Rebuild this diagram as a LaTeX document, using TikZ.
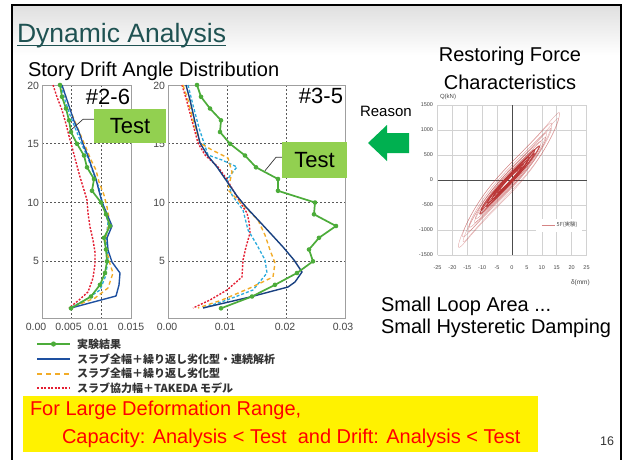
\documentclass[tikz,border=0pt]{standalone}
\usepackage{fontspec}
\setmainfont{Liberation Sans}
\newfontfamily\jpfont{Noto Sans CJK JP}
\usetikzlibrary{calc}
\newcommand\setfs[1]{\fontsize{#1}{#1}\selectfont}

\definecolor{titleteal}{RGB}{31,82,82}
\definecolor{testgreen}{RGB}{76,172,58}
\definecolor{anablue}{RGB}{30,80,160}
\definecolor{anaorange}{RGB}{242,172,40}
\definecolor{anacyan}{RGB}{40,170,220}
\definecolor{anared}{RGB}{228,30,50}
\definecolor{boxgreen}{RGB}{146,208,80}
\definecolor{arrowgreen}{RGB}{0,176,80}
\definecolor{hystred}{RGB}{185,50,50}
\definecolor{ticktext}{RGB}{70,70,70}

\begin{document}
\begin{tikzpicture}[x=1pt,y=-1pt,
  txt/.style={inner sep=0pt, outer sep=0pt},
  plotframe/.style={draw=gray!75, line width=0.9pt},
  plotgrid/.style={draw=black!65, line width=0.9pt, dash pattern=on 2pt off 2pt},
  expcurve/.style={draw=testgreen, line width=1.7pt, line join=round},
  contcurve/.style={draw=anablue, line width=1.4pt, line join=round},
  cyccurve/.style={draw=anaorange, line width=1.4pt, dash pattern=on 4pt off 3pt, line join=round},
  cyancurve/.style={draw=anacyan, line width=1.3pt, dash pattern=on 3pt off 2pt, line join=round},
  takcurve/.style={draw=anared, line width=1.4pt, dash pattern=on 2pt off 1.5pt, line join=round},
  testbox/.style={fill=boxgreen, inner sep=0pt, font=\setfs{22}},
  leader/.style={draw=black!80, line width=0.7pt},
  ticklab/.style={txt, text=ticktext, font=\setfs{10.5}},
  hgrid/.style={draw=gray!35, line width=0.5pt},
  hyst/.style={draw=hystred, line width=0.35pt},
  hlab/.style={txt, text=ticktext, font=\setfs{5.5}},
  legtext/.style={txt, anchor=west, text=black!80, font=\jpfont\bfseries\setfs{11}},
]
\useasboundingbox (0,0) rectangle (624,459);
\fill[white] (0,0) rectangle (624,459);

% slide background with light header gradient
\shade[top color=gray!25, bottom color=white] (12,5) rectangle (621,55);
\draw[black, line width=2.6pt] (12,462) -- (12,5) -- (621,5) -- (621,462);

% title
\node[txt, anchor=base west, text=titleteal, font=\setfs{26.5}] (title) at (17,42) {Dynamic Analysis};
\draw[titleteal, line width=1.4pt] (title.base west) ++(0,3.6) -- ($(title.base east)+(0,3.6)$);
\node[txt, anchor=base west, font=\setfs{20}] (subtitle) at (28,76) {Story Drift Angle Distribution};

% ---------------- drift plot #2-6 ----------------
\foreach \yy in {143.75,202.5,261.25} \draw[plotgrid] (42,\yy) -- (131,\yy);
\foreach \xx in {71.7,101.4} \draw[plotgrid] (\xx,85) -- (\xx,318);
\draw[plotframe] (42,85) rectangle (131,318);
\node[ticklab, anchor=east] (la20) at (39,86) {20};
\node[ticklab, anchor=east] (la15) at (39,143.75) {15};
\node[ticklab, anchor=east] (la10) at (39,202.5) {10};
\node[ticklab, anchor=east] (la5) at (39,261.25) {5};
\node[ticklab] (lx0) at (36,327) {0.00};
\node[ticklab] (lx1) at (68.5,327) {0.005};
\node[ticklab] (lx2) at (98,327) {0.01};
\node[ticklab] (lx3) at (131,327) {0.015};
\node[txt, anchor=base east, font=\setfs{22}] (casea) at (130,104) {\#2-6};

\draw[takcurve] (53,85) -- (57,97) -- (62,110) -- (66,124) -- (69,136) -- (72,147) -- (76,162) -- (80,177) -- (84,190) -- (87,200) -- (88,213) -- (90,227) -- (93,240) -- (95,252) -- (95,264) -- (93,278) -- (88,292) -- (79,300) -- (69,308);
\draw[cyancurve] (61,85) -- (65,100) -- (70,115) -- (76,130) -- (82,145) -- (88,158) -- (93,172) -- (99,188) -- (103,205) -- (108,222) -- (106,240) -- (108,258) -- (106,275) -- (100,290) -- (85,300) -- (70,308);
\draw[cyccurve] (63,88) -- (67,100) -- (71,112) -- (76,124) -- (81,136) -- (86,148) -- (91,160) -- (96,170) -- (99,182) -- (104,195) -- (107,207) -- (109,218) -- (108,228) -- (105,240) -- (107,252) -- (110,264) -- (113,273) -- (108,288) -- (95,298) -- (70,308);
\draw[contcurve] (62,85) -- (66,97) -- (70,109) -- (74,121) -- (79,132) -- (83,144) -- (88,156) -- (92,168) -- (96,179) -- (99,191) -- (102,202) -- (107,214) -- (112,226) -- (107,238) -- (108,250) -- (112,262) -- (120,273) -- (119,285) -- (116,296) -- (71,308);
\draw[expcurve] (60,85) -- (62,96.8) -- (66,108.5) -- (69,120.3) -- (71,132) -- (77,143.8) -- (84,155.5) -- (87,167.3) -- (94,179) -- (92,190.8) -- (101,202.5) -- (106,214.3) -- (110,226) -- (104,237.8) -- (106,249.5) -- (107,261.3) -- (105,273) -- (100,284.8) -- (91,296.5) -- (71,308.3);
\foreach \p in {(60,85),(62,96.8),(66,108.5),(69,120.3),(71,132),(77,143.8),(84,155.5),(87,167.3),(94,179),(92,190.8),(101,202.5),(106,214.3),(110,226),(104,237.8),(106,249.5),(107,261.3),(105,273),(100,284.8),(91,296.5),(71,308.3)}
  \fill[testgreen] \p circle[radius=2.3pt];

% ---------------- drift plot #3-5 ----------------
\foreach \yy in {143.75,202.5,261.25} \draw[plotgrid] (168,\yy) -- (345,\yy);
\foreach \xx in {227,286} \draw[plotgrid] (\xx,85) -- (\xx,318);
\draw[plotframe] (168,85) rectangle (345,318);
\node[ticklab, anchor=east] (lb20) at (165,86) {20};
\node[ticklab, anchor=east] (lb15) at (165,143.75) {15};
\node[ticklab, anchor=east] (lb10) at (165,202.5) {10};
\node[ticklab, anchor=east] (lb5) at (165,261.25) {5};
\node[ticklab] (mx0) at (167,327) {0.00};
\node[ticklab] (mx1) at (225,327) {0.01};
\node[ticklab] (mx2) at (285,327) {0.02};
\node[ticklab] (mx3) at (343,327) {0.03};
\node[txt, anchor=base east, font=\setfs{22}] (caseb) at (343,103) {\#3-5};

\draw[takcurve] (182,85) -- (186,98) -- (190,113) -- (194,128) -- (198,143) -- (205,155) -- (218,167) -- (226,178) -- (233,190) -- (240,202) -- (247,213) -- (249,222) -- (250,233) -- (246,247) -- (243,260) -- (242,277) -- (227,290) -- (210,300) -- (193,308);
\draw[cyancurve] (188,85) -- (193,105) -- (199,128) -- (208,155) -- (222,160) -- (237,167) -- (232,173) -- (227,180) -- (232,195) -- (243,210) -- (248,230) -- (257,245) -- (265,260) -- (267,273) -- (253,290) -- (227,300) -- (203,308);
\draw[cyccurve] (183,85) -- (188,100) -- (193,120) -- (200,143) -- (212,150) -- (228,158) -- (232,172) -- (228,190) -- (240,202) -- (258,220) -- (265,235) -- (270,250) -- (275,263) -- (273,277) -- (250,288) -- (222,300) -- (198,308);
\draw[contcurve, draw=anablue!80!black] (186,85) -- (190,100) -- (195,122) -- (200,143) -- (208,156) -- (217,167) -- (228,183) -- (237,196) -- (246,207) -- (260,222) -- (272,235) -- (283,247) -- (294,260) -- (302,272) -- (295,282) -- (288,287) -- (250,297) -- (203,308);
\draw[expcurve] (197,85) -- (201,96.8) -- (210,108.5) -- (221,120.3) -- (220,132) -- (230,143.8) -- (245,155.5) -- (256,167.3) -- (278,179) -- (278,190.8) -- (315,202.5) -- (314,214.3) -- (336,226) -- (319,237.8) -- (309,249.5) -- (313,261.3) -- (297,273) -- (275,284.8) -- (252,296.5) -- (221,308.3);
\foreach \p in {(197,85),(201,96.8),(210,108.5),(221,120.3),(220,132),(230,143.8),(245,155.5),(256,167.3),(278,179),(278,190.8),(315,202.5),(314,214.3),(336,226),(319,237.8),(309,249.5),(313,261.3),(297,273),(275,284.8),(252,296.5),(221,308.3)}
  \fill[testgreen] \p circle[radius=2.3pt];

% test labels with leader lines
\node[testbox, minimum width=72pt, minimum height=34pt] (testa) at (130,126) {Test};
\coordinate (testaknee) at (83,119.3);
\coordinate (testatip) at (71,130);
\draw[leader] (testa.west |- testaknee) -- (testaknee) -- (testatip);
\node[testbox, minimum width=65pt, minimum height=36pt] (testb) at (314.5,160) {Test};
\coordinate (testbknee) at (276,157.3);
\coordinate (testbtip) at (265,170.7);
\draw[leader] (testb.west |- testbknee) -- (testbknee) -- (testbtip);

% legend
\coordinate (lg1a) at (37,344); \coordinate (lg1b) at (70,344);
\coordinate (lg2a) at (37,359); \coordinate (lg2b) at (70,359);
\coordinate (lg3a) at (37,373.5); \coordinate (lg3b) at (70,373.5);
\coordinate (lg4a) at (37,388); \coordinate (lg4b) at (70,388);
\draw[expcurve] (lg1a) -- (lg1b);
\fill[testgreen] ($(lg1a)!0.5!(lg1b)$) circle[radius=2.6pt];
\draw[contcurve, line width=1.8pt] (lg2a) -- (lg2b);
\draw[cyccurve, line width=2pt, dash pattern=on 5pt off 4pt] (lg3a) -- (lg3b);
\draw[takcurve] (lg4a) -- (lg4b);
\node[legtext] (lgt1) at (77,344) {実験結果};
\node[legtext] (lgt2) at (77,359) {スラブ全幅＋繰り返し劣化型・連続解析};
\node[legtext] (lgt3) at (77,373.5) {スラブ全幅＋繰り返し劣化型};
\node[legtext] (lgt4) at (77,388) {スラブ協力幅＋TAKEDA モデル};

% ---------------- restoring force characteristics ----------------
\node[txt, anchor=base, font=\setfs{20}] (rfc1) at (510,61) {Restoring Force};
\node[txt, anchor=base, font=\setfs{20}] (rfc2) at (510,89) {Characteristics};
\node[txt, anchor=base west, font=\setfs{15}] (reason) at (360,116) {Reason};
\fill[arrowgreen] (368,143) -- (387,125) -- (387,133) -- (409,133) -- (409,153) -- (387,153) -- (387,161) -- cycle;

\begin{scope}[shift={(512,180)}, x=2.98pt, y=0.05pt]
  \foreach \gx in {-25,-20,...,25} \draw[hgrid] (\gx,-1500) -- (\gx,1500);
  \foreach \gy in {-1500,-1000,...,1500} \draw[hgrid] (-25,\gy) -- (25,\gy);
  \draw[gray!60!black, line width=0.6pt] (-25,0) -- (25,0);
  \draw[gray!60!black, line width=0.6pt] (0,-1500) -- (0,1500);
  \foreach \gy in {-1500,-1000,-500,0,500,1000,1500}
    \node[hlab, anchor=east] at (-26.5,\gy) {\gy};
  \foreach \gx in {-25,-20,...,25}
    \node[hlab] at (\gx,-1760) {\gx};
  % hysteresis loops
  \foreach \A/\B/\c/\op in {17/300/0/0.45,16/230/0.6/0.4,15/260/-0.6/0.45,14/190/0.2/0.45,13/210/-0.4/0.5,12/160/0.4/0.5,11/170/-0.2/0.55,10/120/0.3/0.6,9/130/-0.3/0.6,8/100/0.2/0.7,7/95/-0.2/0.75,6/80/0.2/0.8,5/70/-0.1/0.85,4/60/0.1/0.9,3/45/0/0.9}
    \draw[hyst, opacity=\op] plot[domain=0:360, samples=90, smooth, variable=\t]
      ({\A*cos(\t)-1+\c}, {62*\A*cos(\t)+0.055*\A*cos(\t)*\A*cos(\t)*\A*cos(\t)+\B*sin(\t)});
  \foreach \A/\B/\c in {10/90/0.2,9/80/-0.4,8/70/0.5,7/85/-0.2,6/60/0.3,5/55/-0.3,4/40/0.2}
    \draw[hyst, line width=0.9pt, opacity=0.8] plot[domain=0:360, samples=70, smooth, variable=\t]
      ({\A*cos(\t)-1+\c}, {62*\A*cos(\t)+0.055*\A*cos(\t)*\A*cos(\t)*\A*cos(\t)+\B*sin(\t)});
  % legend of the chart
  \fill[white] (8,-770) rectangle (23.5,-1040);
  \draw[hystred!60, line width=0.5pt] (10,-900) -- (14.5,-900);
  \node[hlab, anchor=west, font=\jpfont\setfs{5.5}] (hlegend) at (15,-900) {5F(実験)};
\end{scope}
\node[hlab, anchor=west, font=\setfs{6}] (qlabel) at (440,97) {Q(kN)};
\node[hlab, anchor=west, font=\setfs{6.5}] (dlabel) at (571,283) {δ(mm)};

\node[txt, anchor=base west, font=\setfs{20}] (loop1) at (381,311) {Small Loop Area ...};
\node[txt, anchor=base west, font=\setfs{20}] (loop2) at (381,333) {Small Hysteretic Damping};

% conclusion box
\fill[yellow] (23,396) rectangle (538,452);
\node[txt, anchor=base west, text=red, font=\setfs{20}] (concl1) at (30,415) {For Large Deformation Range,};
\node[txt, anchor=base west, text=red, font=\setfs{20}] (concl2) at (62,443) {Capacity: Analysis < Test\ \ and Drift: Analysis < Test};

\node[txt, anchor=base east, text=black!80, font=\setfs{12.5}] (pageno) at (614,445) {16};
\end{tikzpicture}
\end{document}
